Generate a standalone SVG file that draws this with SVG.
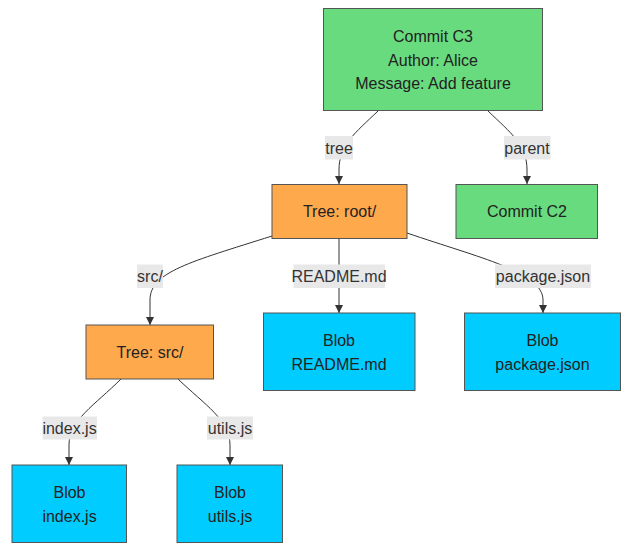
<svg xmlns="http://www.w3.org/2000/svg" width="634" height="551" viewBox="0 0 634 551">
<style>
text{font-family:"Liberation Sans",Arial,sans-serif;font-size:16px;fill:#222;text-anchor:middle;dominant-baseline:central}
.commit{fill:#68DB7E;stroke:#555;stroke-width:1}
.tree{fill:#FFA94D;stroke:#555;stroke-width:1}
.blob{fill:#00CCFF;stroke:#555;stroke-width:1}
.edge{fill:none;stroke:#333;stroke-width:1}
.lbl{fill:#e8e8e8}
.lt{fill:#333}
</style>
<defs>
<marker id="arr" viewBox="0 0 10 10" refX="10" refY="5" markerWidth="8" markerHeight="8" markerUnits="userSpaceOnUse" orient="auto">
<path d="M0,0 L10,5 L0,10 z" fill="#333"/>
</marker>
</defs>
<rect width="634" height="551" fill="#fff"/>
<g id="edges">
<path class="edge" d="M378,111 C355,133 339,145 339,170 L339,184" marker-end="url(#arr)"/>
<path class="edge" d="M488,111 C511,133 527,145 527,170 L527,184" marker-end="url(#arr)"/>
<path class="edge" d="M272,236 C190,262 150,272 150,300 L150,325" marker-end="url(#arr)"/>
<path class="edge" d="M339,239 L339,313" marker-end="url(#arr)"/>
<path class="edge" d="M407,233 C480,258 543,272 543,300 L543,313" marker-end="url(#arr)"/>
<path class="edge" d="M121,379 C95,405 69,420 69,445 L69,465" marker-end="url(#arr)"/>
<path class="edge" d="M178,379 C205,405 230,420 230,445 L230,465" marker-end="url(#arr)"/>
<g id="edge-labels">
<rect class="lbl" x="325" y="136" width="28" height="23.5"/><text class="lt" x="339" y="148">tree</text>
<rect class="lbl" x="504" y="136" width="46.5" height="23.5"/><text class="lt" x="527" y="148">parent</text>
<rect class="lbl" x="137" y="264.5" width="26" height="23.5"/><text class="lt" x="150" y="276">src/</text>
<rect class="lbl" x="293.5" y="264.5" width="91.5" height="23.5"/><text class="lt" x="339" y="276">README.md</text>
<rect class="lbl" x="495" y="264.5" width="96" height="23.5"/><text class="lt" x="543" y="276">package.json</text>
<rect class="lbl" x="42.5" y="416.5" width="54.5" height="23"/><text class="lt" x="69.5" y="428">index.js</text>
<rect class="lbl" x="207" y="416.5" width="46" height="23"/><text class="lt" x="230" y="428">utils.js</text>
</g>
</g>
<g id="C3">
<rect class="commit" x="323.5" y="8.5" width="219" height="102"/>
<text x="433" y="36.5">Commit C3</text>
<text x="433" y="60">Author: Alice</text>
<text x="433" y="83.5">Message: Add feature</text>
</g>
<g id="root">
<rect class="tree" x="272" y="184.5" width="135" height="54"/>
<text x="339.5" y="211.5">Tree: root/</text>
</g>
<g id="C2">
<rect class="commit" x="456" y="184.5" width="141.5" height="54"/>
<text x="527" y="211.5">Commit C2</text>
</g>
<g id="src">
<rect class="tree" x="86" y="325" width="127.5" height="54"/>
<text x="150" y="352">Tree: src/</text>
</g>
<g id="readme">
<rect class="blob" x="263.5" y="313" width="151.5" height="77.5"/>
<text x="339" y="340">Blob</text>
<text x="339" y="364">README.md</text>
</g>
<g id="package">
<rect class="blob" x="464.5" y="313" width="156" height="77.5"/>
<text x="542.5" y="340">Blob</text>
<text x="542.5" y="364">package.json</text>
</g>
<g id="index">
<rect class="blob" x="12" y="465" width="114.5" height="77.5"/>
<text x="69.5" y="492">Blob</text>
<text x="69.5" y="516">index.js</text>
</g>
<g id="utils">
<rect class="blob" x="177" y="465" width="105.5" height="77.5"/>
<text x="230" y="492">Blob</text>
<text x="230" y="516">utils.js</text>
</g>
</svg>
